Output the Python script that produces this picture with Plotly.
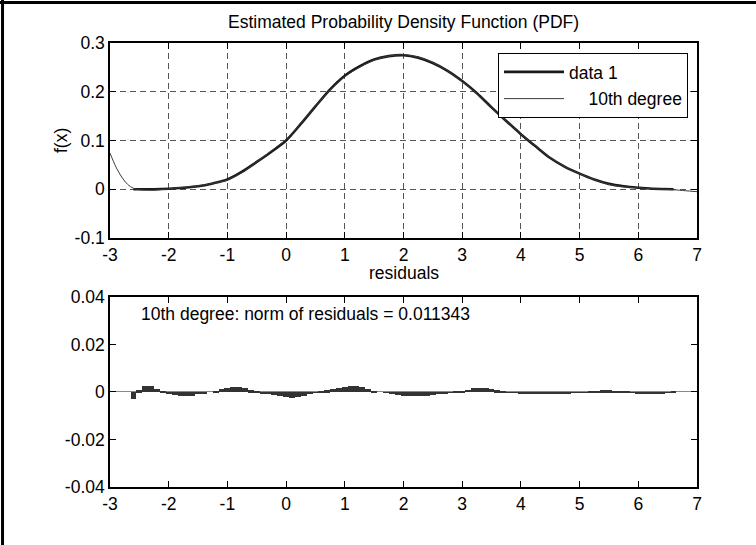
import plotly.graph_objects as go

#DATA - estimated pdf (data 1)
x_data = [-2.6, -2.25, -2, -1.75, -1.5, -1.25, -1, -0.75, -0.5, -0.25, 0, 0.25, 0.5, 0.75,
          1, 1.25, 1.5, 1.75, 2, 2.25, 2.5, 2.75, 3, 3.25, 3.5, 3.75, 4, 4.25, 4.5, 4.75,
          5, 5.25, 5.5, 5.75, 6, 6.25, 6.6]
y_data = [0.000, 0.000, 0.001, 0.003, 0.006, 0.012, 0.020, 0.036, 0.056, 0.077, 0.100, 0.134,
          0.170, 0.205, 0.233, 0.252, 0.266, 0.273, 0.275, 0.270, 0.259, 0.243, 0.222, 0.197,
          0.168, 0.140, 0.113, 0.088, 0.064, 0.046, 0.032, 0.020, 0.011, 0.006, 0.003, 0.001, 0.000]

#10th degree polynomial fit
x_fit = [-3, -2.9, -2.8, -2.7, -2.6, -2.5, -2.25, -2, -1.75, -1.5, -1.25, -1, -0.75, -0.5,
         -0.25, 0, 0.25, 0.5, 0.75, 1, 1.25, 1.5, 1.75, 2, 2.25, 2.5, 2.75, 3, 3.25, 3.5,
         3.75, 4, 4.25, 4.5, 4.75, 5, 5.25, 5.5, 5.75, 6, 6.25, 6.6, 6.8, 7]
y_fit = [0.074, 0.046, 0.025, 0.010, 0.002, -0.001, -0.002, 0.001, 0.004, 0.007, 0.012, 0.019,
         0.034, 0.056, 0.079, 0.102, 0.135, 0.170, 0.204, 0.231, 0.250, 0.265, 0.273, 0.276,
         0.271, 0.260, 0.243, 0.221, 0.196, 0.167, 0.140, 0.113, 0.089, 0.065, 0.046, 0.032,
         0.020, 0.010, 0.005, 0.003, 0.001, -0.001, -0.003, -0.005]

#residuals of the fit
x_res = [round(-2.6 + 0.1 * i, 1) for i in range(93)]
res = [-0.0028, 0.0008, 0.0025, 0.0024, 0.0014, 0.0004, -0.0006, -0.0012, -0.0016, -0.0017,
       -0.0015, -0.0010, -0.0005, 0.0000, 0.0006, 0.0012, 0.0018, 0.0021, 0.0020, 0.0015,
       0.0008, 0.0002, -0.0005, -0.0010, -0.0014, -0.0018, -0.0023, -0.0024, -0.0022, -0.0016,
       -0.0010, -0.0004, 0.0003, 0.0008, 0.0013, 0.0017, 0.0022, 0.0025, 0.0025, 0.0020,
       0.0013, 0.0006, 0.0000, -0.0004, -0.0007, -0.0011, -0.0015, -0.0018, -0.0018, -0.0017,
       -0.0016, -0.0012, -0.0008, -0.0005, -0.0001, 0.0003, 0.0006, 0.0010, 0.0015, 0.0016,
       0.0016, 0.0014, 0.0008, 0.0003, -0.0001, -0.0003, -0.0005, -0.0007, -0.0007, -0.0008,
       -0.0007, -0.0007, -0.0006, -0.0006, -0.0005, -0.0004, -0.0003, -0.0001, 0.0003, 0.0006,
       0.0007, 0.0007, 0.0006, 0.0005, 0.0001, -0.0002, -0.0005, -0.0007, -0.0007, -0.0007,
       -0.0006, -0.0003, 0.0004]

#tick labels
x_ticks = [-3, -2, -1, 0, 1, 2, 3, 4, 5, 6, 7]
x_labels = ["-3", "-2", "-1", "0", "1", "2", "3", "4", "5", "6", "7"]
y_ticks_top = [-0.1, 0, 0.1, 0.2, 0.3]
y_labels_top = ["-0.1", "0", "0.1", "0.2", "0.3"]
y_ticks_bot = [-0.04, -0.02, 0, 0.02, 0.04]
y_labels_bot = ["-0.04", "-0.02", "0", "0.02", "0.04"]

FONT = "Arial, Liberation Sans, sans-serif"
FS = 17.5

fig = go.Figure()

fig.add_trace(go.Scatter(x=x_data, y=y_data, mode="lines", name="data 1",
                         line=dict(color="#1a1a1a", width=2.6, shape="spline", smoothing=0.8),
                         legendgroup="a", xaxis="x", yaxis="y"))
fig.add_trace(go.Scatter(x=x_fit, y=y_fit, mode="lines", name="\u00a0\u00a0\u00a0\u00a010th degree",
                         line=dict(color="#3a3a3a", width=1, shape="spline", smoothing=0.8),
                         legendgroup="b", xaxis="x", yaxis="y"))

#residual bars
fig.add_trace(go.Bar(x=x_res, y=res, width=0.1, showlegend=False,
                     marker=dict(color="#333333", line=dict(width=0)),
                     xaxis="x2", yaxis="y2"))

axis_common = dict(
    ticks="inside", ticklen=6, tickcolor="black", showline=True, linecolor="black",
    linewidth=1.5, mirror="ticks", tickfont=dict(family=FONT, size=FS, color="black"),
)
grid = dict(showgrid=True, gridcolor="#555555", gridwidth=1, griddash="6px,4px")

fig.update_layout(
    width=756, height=545,
    margin=dict(l=110, r=59, t=43, b=58),
    paper_bgcolor="white", plot_bgcolor="white",
    font=dict(family=FONT, size=FS, color="black"),
    bargap=0,
    xaxis=dict(domain=[0, 1], anchor="y", range=[-3, 7], tickmode="array",
               tickvals=x_ticks, ticktext=x_labels, zeroline=False, **grid, **axis_common),
    yaxis=dict(domain=[0.5608, 1], anchor="x", range=[-0.1, 0.3], tickmode="array",
               tickvals=y_ticks_top, ticktext=y_labels_top, zeroline=False, **grid, **axis_common),
    xaxis2=dict(domain=[0, 1], anchor="y2", range=[-3, 7], tickmode="array",
                tickvals=x_ticks, ticktext=x_labels, showgrid=False, zeroline=False, **axis_common),
    yaxis2=dict(domain=[0, 0.428], anchor="x2", range=[-0.04, 0.04], tickmode="array",
                tickvals=y_ticks_bot, ticktext=y_labels_bot, showgrid=False,
                zeroline=True, zerolinecolor="#8a8a8a", zerolinewidth=1, **axis_common),
    legend=dict(x=0.9847, y=0.9775, xanchor="right", yanchor="top",
                bgcolor="white", bordercolor="black", borderwidth=1,
                font=dict(family=FONT, size=FS, color="black"),
                itemwidth=60, tracegroupgap=1, traceorder="grouped"),
)

#title, axis labels and the norm text
fig.add_annotation(text="Estimated Probability Density Function (PDF)", xref="paper", yref="paper",
                   x=0.5, y=1.047, showarrow=False, font=dict(size=FS), xanchor="center", yanchor="middle")
fig.add_annotation(text="residuals", xref="paper", yref="paper", x=0.5, y=0.4820,
                   showarrow=False, font=dict(size=FS), xanchor="center", yanchor="middle")
fig.add_annotation(text="f(x)", xref="paper", yref="paper", x=-0.0835, y=0.7815, textangle=-90,
                   showarrow=False, font=dict(size=FS), xanchor="center", yanchor="middle")
fig.add_annotation(text="10th degree: norm of residuals = 0.011343", xref="x2", yref="y2",
                   x=-2.5, y=0.0328, showarrow=False, font=dict(size=FS),
                   xanchor="left", yanchor="middle")

#outer frame (top and left edge of the window)
fig.add_shape(type="line", xref="paper", yref="paper", x0=-0.19, x1=1.11, y0=1.0912, y1=1.0912,
              line=dict(color="black", width=3))
fig.add_shape(type="line", xref="paper", yref="paper", x0=-0.1831, x1=-0.1831, y0=1.1, y1=-0.14,
              line=dict(color="black", width=3))

#page body has a default 8px margin, remove it so the figure sits at 0,0
fig.write_html("out.html", config={"displayModeBar": False},
               post_script="document.body.style.margin='0';")
